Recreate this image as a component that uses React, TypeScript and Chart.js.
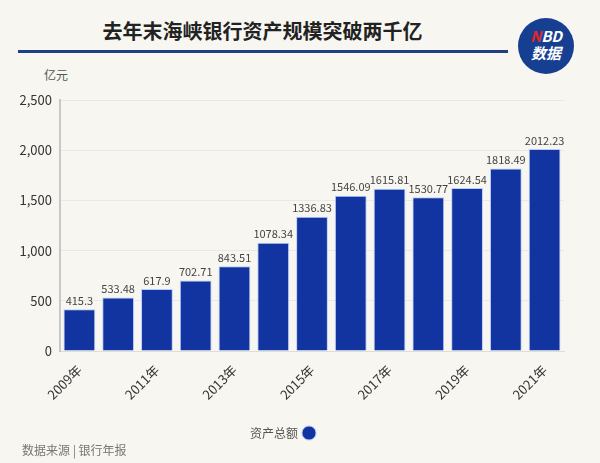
import React, { useEffect, useRef } from "react";
import { Chart, registerables } from "chart.js";

Chart.register(...registerables);

const categories = ["2009年", "2010年", "2011年", "2012年", "2013年", "2014年", "2015年", "2016年", "2017年", "2018年", "2019年", "2020年", "2021年"];
const totalAssets = [415.3, 533.48, 617.9, 702.71, 843.51, 1078.34, 1336.83, 1546.09, 1615.81, 1530.77, 1624.54, 1818.49, 2012.23];
const valueLabels = ["415.3", "533.48", "617.9", "702.71", "843.51", "1078.34", "1336.83", "1546.09", "1615.81", "1530.77", "1624.54", "1818.49", "2012.23"];
const seriesName = "资产总额";
const yTicks = [0, 500, 1000, 1500, 2000, 2500];

const FONT = "'Noto Sans CJK SC', 'Noto Sans', sans-serif";
const BG = "#f7f6f0";

const valueLabelPlugin = {
  id: "valueLabels",
  afterDatasetsDraw(chart: any) {
    const ctx = chart.ctx;
    const meta = chart.getDatasetMeta(0);
    ctx.save();
    ctx.font = `11px ${FONT}`;
    ctx.fillStyle = "#444";
    ctx.textAlign = "center";
    ctx.textBaseline = "bottom";
    meta.data.forEach((bar: any, i: number) => {
      ctx.fillText(valueLabels[i], bar.x, bar.y - 3);
    });
    ctx.restore();
  },
};

export default function App() {
  const ref = useRef<HTMLCanvasElement>(null);
  useEffect(() => {
    if (!ref.current) return;
    const chart = new Chart(ref.current, {
      type: "bar",
      data: {
        labels: categories,
        datasets: [
          {
            label: seriesName,
            data: totalAssets,
            backgroundColor: "#1234a0",
            borderColor: "#b9cbff",
            borderWidth: 1,
            barPercentage: 0.82,
            categoryPercentage: 1,
          },
        ],
      },
      options: {
        animation: false,
        responsive: false,
        maintainAspectRatio: false,
        layout: { padding: { top: 100, right: 36, bottom: 14, left: 0 } },
        plugins: {
          legend: {
            display: true,
            position: "bottom",
            rtl: true,
            textDirection: "ltr",
            labels: {
              usePointStyle: true,
              pointStyle: "circle",
              boxWidth: 10,
              boxHeight: 10,
              color: "#555",
              font: { family: FONT, size: 12 },
              padding: 6,
            },
          },
          tooltip: { enabled: false },
        },
        scales: {
          x: {
            grid: { display: false },
            border: { color: "#ddd" },
            ticks: {
              color: "#333",
              font: { family: FONT, size: 13 },
              autoSkip: false,
              maxRotation: 45,
              minRotation: 45,
              callback: (_v: any, i: number) => (i % 2 === 0 ? categories[i] : ""),
            },
            afterFit: (s: any) => {
              s.height = 70;
            },
          },
          y: {
            min: 0,
            max: 2500,
            afterBuildTicks: (s: any) => {
              s.ticks = yTicks.map((v) => ({ value: v }));
            },
            grid: { color: "#e9e8e2", drawTicks: false },
            border: { color: "#c8c8c8", width: 2 },
            ticks: {
              color: "#333",
              padding: 8,
              font: { family: FONT, size: 13 },
              callback: (v: any) => Number(v).toLocaleString("en-US"),
            },
            afterFit: (s: any) => {
              s.width = 60;
            },
          },
        },
      },
      plugins: [valueLabelPlugin],
    });
    return () => chart.destroy();
  }, []);

  return (
    <div style={{ position: "fixed", left: 0, top: 0, width: 600, height: 463, background: BG, fontFamily: FONT, overflow: "hidden" }}>
      <div style={{ position: "absolute", left: 0, width: 525, top: 18, textAlign: "center", fontSize: 20, fontWeight: 700, color: "#222", lineHeight: "26px" }}>
        去年末海峡银行资产规模突破两千亿
      </div>
      <div style={{ position: "absolute", left: 18, top: 50, width: 490, height: 3, background: "#1f3f86" }} />
      <div style={{ position: "absolute", left: 518, top: 18, width: 56, height: 56, borderRadius: "50%", background: "#173f91", color: "#fff", textAlign: "center", fontWeight: 700, fontStyle: "italic" }}>
        <div style={{ fontSize: 15, lineHeight: "16px", marginTop: 10 }}>
          <span style={{ color: "#e0262b" }}>N</span>BD
        </div>
        <div style={{ fontSize: 15, lineHeight: "18px" }}>数据</div>
      </div>
      <div style={{ position: "absolute", left: 44, top: 66, fontSize: 12, color: "#555" }}>亿元</div>
      <canvas ref={ref} width={600} height={463} style={{ position: "absolute", left: 0, top: 0, width: 600, height: 463 }} />
      <div style={{ position: "absolute", left: 22, top: 441, fontSize: 12, color: "#777" }}>数据来源 | 银行年报</div>
    </div>
  );
}
